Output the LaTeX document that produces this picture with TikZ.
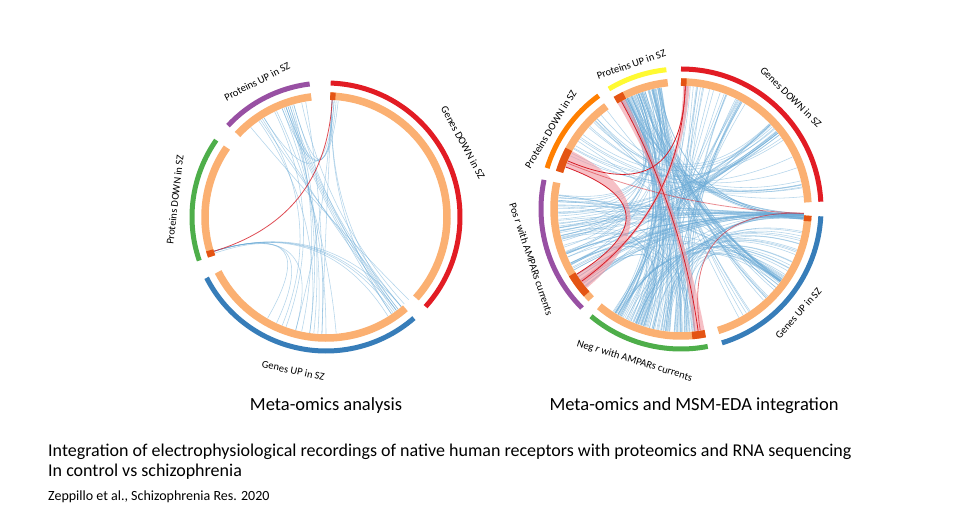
\documentclass[tikz,border=0pt]{standalone}
\usepackage{fontspec}
\setmainfont{Carlito}

\definecolor{segred}{RGB}{226,28,36}
\definecolor{segblue}{RGB}{55,125,185}
\definecolor{seggreen}{RGB}{78,174,74}
\definecolor{segpurple}{RGB}{152,80,163}
\definecolor{segorange}{RGB}{255,127,0}
\definecolor{segyellow}{RGB}{255,250,50}
\definecolor{peach}{RGB}{251,176,114}
\definecolor{darkpeach}{RGB}{228,84,20}
\definecolor{chordblue}{RGB}{105,170,215}
\definecolor{ribbonpink}{RGB}{240,150,160}
\definecolor{linkred}{RGB}{215,30,40}

% random fan of chords between two angle ranges
\newcommand{\chordfan}[6]{%
  \foreach \k in {1,...,#1}{%
    \pgfmathsetmacro{\ca}{#2+#3*rnd}%
    \pgfmathsetmacro{\cb}{#4+#5*rnd}%
    \draw[chord] (\ca:#6) .. controls (\ca:#6/3) and (\cb:#6/3) .. (\cb:#6);%
  }%
}

\begin{document}
\begin{tikzpicture}[x=1pt,y=1pt,
    outer arc/.style = {line width=5pt},
    inner arc/.style = {line width=7.5pt, color=peach},
    marker/.style = {line width=7.5pt, color=darkpeach},
    chord/.style = {color=chordblue, opacity=0.5, line width=0.55pt},
    link/.style = {color=linkred, line width=0.8pt},
    ribbon/.style = {fill=ribbonpink, opacity=0.6},
    seglabel/.style = {font=\fontsize{10.5}{12}\selectfont, inner sep=0pt},
    caption/.style = {font=\fontsize{18.5}{21}\selectfont, inner sep=0pt}]
\useasboundingbox[fill=white] (0,0) rectangle (975,528);

% ---- left: meta-omics analysis
\begin{scope}[shift={(326,311)}]
  \foreach \a/\b in {109/-52, 110/-54, 108/-50, 111/-56, 106/-53, 109/262, 110/266,
      108/258, 112/270, 107/264, 124/-50, 122/-53, 125/262, 123/248, 106/86, 110/85,
      112/84, 122/86, 87/-52, 87/-56, 87/255, 87/268, 197/-50, 197/-53, 197/-55,
      197/-58, 197/245, 197/255, 198/240, 100/268, 102/-48, 130/-45, 115/275, 116/250}
    \draw[chord] (\a:117) .. controls (\a:39) and (\b:39) .. (\b:117);
  \draw[link, opacity=0.8] (87:117) .. controls (87:39) and (197:39) .. (197:117);
  \foreach \a/\b/\c in {88/-42/segred, -49/-153/segblue, 145/199/seggreen, 97/137/segpurple}{
    \draw[outer arc, \c] (\a:134) arc[start angle=\a, end angle=\b, radius=134];
    \draw[inner arc] (\a:121) arc[start angle=\a, end angle=\b, radius=121];
  }
  \draw[marker] (88:121) arc[start angle=88, end angle=85.5, radius=121];
  \draw[marker] (199:121) arc[start angle=199, end angle=196, radius=121];
  \node[seglabel, rotate=27] (lpup) at (117:152) {Proteins UP in SZ};
  \node[seglabel, rotate=-61.5] (lgdown) at (28.5:156) {Genes DOWN in SZ};
  \node[seglabel, rotate=83.5] (lpdown) at (173.5:152) {Proteins DOWN in SZ};
  \node[seglabel, rotate=-12] (lgup) at (258:157) {Genes UP in SZ};
\end{scope}

% ---- right: meta-omics and MSM-EDA integration
\begin{scope}[shift={(681,319)}]
  \pgfmathsetseed{12}
  \chordfan{50}{236}{42}{99}{20}{123}
  \chordfan{28}{236}{42}{55}{33}{123}
  \chordfan{28}{172}{48}{355}{3}{123}
  \chordfan{16}{172}{48}{36}{8}{123}
  \chordfan{22}{236}{42}{320}{30}{123}
  \chordfan{20}{99}{20}{295}{30}{123}
  \chordfan{14}{130}{25}{5}{40}{123}
  \chordfan{12}{99}{20}{172}{45}{123}
  \chordfan{10}{172}{48}{236}{42}{123}
  \chordfan{10}{99}{20}{355}{3}{123}
  \chordfan{8}{236}{42}{355}{3}{123}
  \chordfan{12}{99}{120}{323}{4}{123}
  % pink ribbons
  \fill[ribbon] (152:123) .. controls (152:41) and (220:41) .. (220:123)
    arc[start angle=220, end angle=212, radius=123]
    .. controls (212:41) and (160:41) .. (160:123)
    arc[start angle=160, end angle=152, radius=123] -- cycle;
  \fill[ribbon] (117:123) .. controls (117:41) and (281:41) .. (281:123)
    arc[start angle=281, end angle=276, radius=123]
    .. controls (276:41) and (121:41) .. (121:123)
    arc[start angle=121, end angle=117, radius=123] -- cycle;
  \fill[ribbon] (86:123) .. controls (86:41) and (217:41) .. (217:123)
    arc[start angle=217, end angle=215, radius=123]
    .. controls (215:41) and (89:41) .. (89:123)
    arc[start angle=89, end angle=86, radius=123] -- cycle;
  \draw[link] (160:123) .. controls (160:41) and (212:41) .. (212:123);
  \draw[link] (119:123) .. controls (119:41) and (278:41) .. (278:123);
  \draw[link] (88:123) .. controls (88:41) and (216:41) .. (216:123);
  \draw[link] (88:123) .. controls (88:41) and (157:41) .. (157:123);
  \draw[link, opacity=0.6] (358:123) .. controls (358:41) and (279:41) .. (279:123);
  \draw[link, opacity=0.5] (358:123) .. controls (358:41) and (158:41) .. (158:123);
  \foreach \a/\b/\c in {90/3/segred, 121/96/segyellow, 163/126/segorange,
      225/168/segpurple, 281/230/seggreen, 357/287/segblue}{
    \draw[outer arc, \c] (\a:140) arc[start angle=\a, end angle=\b, radius=140];
    \draw[inner arc] (\a:127) arc[start angle=\a, end angle=\b, radius=127];
  }
  \foreach \a/\b in {90/87.5, 121/116.5, 163/152, 222/211, 281/275, 357/354.5}
    \draw[marker] (\a:127) arc[start angle=\a, end angle=\b, radius=127];
  \node[seglabel, rotate=-44.5] (rgdown) at (45.5:157) {Genes DOWN in SZ};
  \node[seglabel, rotate=19] (rpup) at (109:153) {Proteins UP in SZ};
  \node[seglabel, rotate=58.5] (rpdown) at (148.5:153) {Proteins DOWN in SZ};
  \node[seglabel, rotate=-71.5] (rpos) at (198.5:158) {Pos \textit{r} with AMPARs currents};
  \node[seglabel, rotate=-17] (rneg) at (253:159) {Neg \textit{r} with AMPARs currents};
  \node[seglabel, rotate=48.4] (rgup) at (-41.6:157) {Genes UP in SZ};
\end{scope}

% ---- captions
\node[caption] (capleft) at (326,122) {Meta-omics analysis};
\node[caption] (capright) at (694,122) {Meta-omics and MSM-EDA integration};
\node[caption, font=\fontsize{18}{21}\selectfont, anchor=west] (intro) at (48,76)
  {Integration of electrophysiological recordings of native human receptors with proteomics and RNA sequencing};
\node[caption, font=\fontsize{18}{21}\selectfont, anchor=west] (introb) at (48,56) {In control vs schizophrenia};
\node[font=\fontsize{14}{16}\selectfont, inner sep=0pt, anchor=west] (cite) at (48,31)
  {Zeppillo et al., Schizophrenia Res. 2020};
\end{tikzpicture}
\end{document}
